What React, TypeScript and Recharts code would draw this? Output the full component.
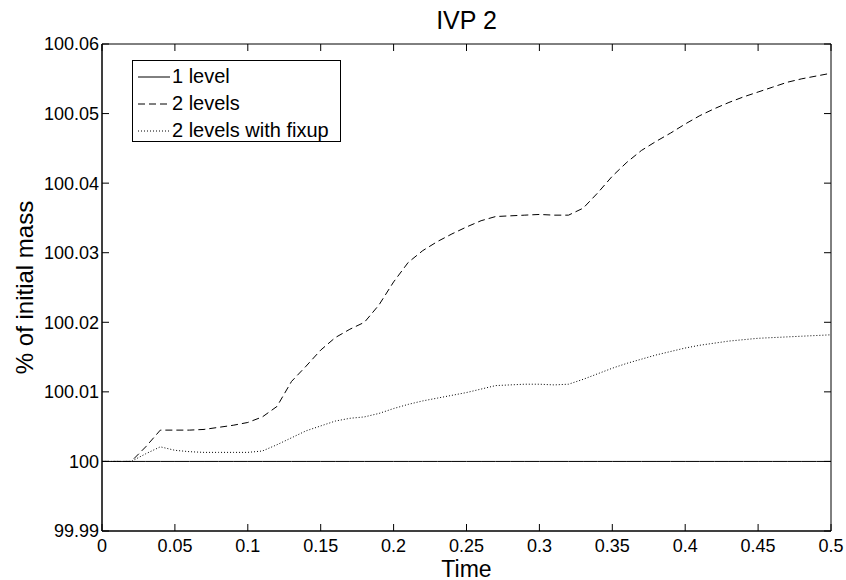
import { LineChart, Line, XAxis, YAxis, Legend } from 'recharts';

// sample times (s)
const time = [
  0, 0.01, 0.02, 0.03, 0.04, 0.05, 0.06, 0.07, 0.08, 0.09,
  0.1, 0.11, 0.12, 0.13, 0.14, 0.15, 0.16, 0.17, 0.18, 0.19,
  0.2, 0.21, 0.22, 0.23, 0.24, 0.25, 0.26, 0.27, 0.28, 0.29,
  0.3, 0.31, 0.32, 0.33, 0.34, 0.35, 0.36, 0.37, 0.38, 0.39,
  0.4, 0.41, 0.42, 0.43, 0.44, 0.45, 0.46, 0.47, 0.48, 0.49, 0.5,
];

const oneLevel = [
  100, 100, 100, 100, 100, 100, 100, 100, 100, 100,
  100, 100, 100, 100, 100, 100, 100, 100, 100, 100,
  100, 100, 100, 100, 100, 100, 100, 100, 100, 100,
  100, 100, 100, 100, 100, 100, 100, 100, 100, 100,
  100, 100, 100, 100, 100, 100, 100, 100, 100, 100, 100,
];

const twoLevels = [
  100, 100, 100, 100.0021, 100.0045, 100.0045, 100.0045, 100.0046, 100.0049, 100.0052,
  100.0056, 100.0064, 100.0079, 100.0115, 100.0137, 100.016, 100.0178, 100.019, 100.02, 100.0225,
  100.0258, 100.0286, 100.0303, 100.0316, 100.0327, 100.0337, 100.0346, 100.0352, 100.0353, 100.0354,
  100.0355, 100.0354, 100.0354, 100.0364, 100.0386, 100.041, 100.043, 100.0447, 100.046, 100.0472,
  100.0485, 100.0497, 100.0507, 100.0516, 100.0524, 100.0531, 100.0538, 100.0545, 100.055, 100.0554, 100.0558,
];

const twoLevelsFixup = [
  100, 100, 100, 100.0011, 100.0021, 100.0016, 100.0014, 100.0013, 100.0013, 100.0013,
  100.0013, 100.0015, 100.0024, 100.0034, 100.0044, 100.0051, 100.0058, 100.0062, 100.0064, 100.0069,
  100.0076, 100.0082, 100.0087, 100.0091, 100.0095, 100.0099, 100.0104, 100.0109, 100.011, 100.0111,
  100.0111, 100.011, 100.0111, 100.0118, 100.0126, 100.0134, 100.0141, 100.0147, 100.0153, 100.0158,
  100.0163, 100.0167, 100.017, 100.0173, 100.0175, 100.0177, 100.0178, 100.0179, 100.018, 100.0181, 100.0182,
];

const xTicks = [0, 0.05, 0.1, 0.15, 0.2, 0.25, 0.3, 0.35, 0.4, 0.45, 0.5];
const xTickLabels = ['0', '0.05', '0.1', '0.15', '0.2', '0.25', '0.3', '0.35', '0.4', '0.45', '0.5'];
const yTicks = [99.99, 100, 100.01, 100.02, 100.03, 100.04, 100.05, 100.06];
const yTickLabels = ['99.99', '100', '100.01', '100.02', '100.03', '100.04', '100.05', '100.06'];

const seriesNames = ['1 level', '2 levels', '2 levels with fixup'];
const dashes = [undefined, '7 4', '1 2'];

const data = time.map((t, i) => ({
  t,
  one: oneLevel[i],
  two: twoLevels[i],
  fix: twoLevelsFixup[i],
}));

const FONT = '"Liberation Sans", Arial, Helvetica, sans-serif';
const tickStyle = { fill: '#000', fontSize: 18 };
const X_DOMAIN: [number, number] = [0, 0.5];
const Y_DOMAIN: [number, number] = [99.99, 100.06];
const TICK_LEN = 7;
const noLabel = () => <g />;

function LegendBox() {
  return (
    <div
      style={{
        border: '1px solid #000',
        background: '#fff',
        width: 209,
        height: 82,
        boxSizing: 'border-box',
        paddingTop: 2,
        fontSize: 20,
        color: '#000',
      }}
    >
      {seriesNames.map((name, i) => (
        <div key={name} style={{ display: 'flex', alignItems: 'center', height: 27 }}>
          <svg width={32} height={4} style={{ marginLeft: 5, marginRight: 2 }}>
            <line x1={0} y1={2} x2={32} y2={2} stroke="#000" strokeWidth={1} strokeDasharray={dashes[i]} />
          </svg>
          <span>{name}</span>
        </div>
      ))}
    </div>
  );
}

export default function App() {
  return (
    <div style={{ position: 'absolute', left: 0, top: 0, background: '#fff' }}>
      <LineChart
        width={846}
        height={580}
        data={data}
        margin={{ top: 44, right: 15, bottom: 0, left: 0 }}
        style={{ fontFamily: FONT }}
      >
        {/* labelled axes (bottom / left) */}
        <XAxis
          dataKey="t"
          type="number"
          domain={X_DOMAIN}
          ticks={xTicks}
          interval={0}
          height={49}
          tickLine={false}
          tickSize={0}
          tickMargin={8}
          tick={tickStyle}
          stroke="#000"
          tickFormatter={(v) => xTickLabels[xTicks.indexOf(v)] ?? String(v)}
          label={{ value: 'Time', position: 'insideBottom', offset: 3, fontSize: 23, fill: '#000' }}
        />
        <YAxis
          type="number"
          domain={Y_DOMAIN}
          ticks={yTicks}
          interval={0}
          width={102}
          tickLine={false}
          tickSize={0}
          tickMargin={3}
          tick={tickStyle}
          stroke="#000"
          tickFormatter={(v) => yTickLabels[yTicks.indexOf(v)] ?? String(v)}
          label={{
            value: '% of initial mass',
            angle: -90,
            position: 'insideLeft',
            offset: 24,
            fontSize: 24,
            fill: '#000',
            style: { textAnchor: 'middle' },
          }}
        />
        {/* mirrored axes: inward ticks on all four sides */}
        <XAxis
          xAxisId="bottomTicks"
          orientation="bottom"
          mirror
          dataKey="t"
          type="number"
          domain={X_DOMAIN}
          allowDataOverflow
          ticks={xTicks}
          interval={0}
          tickSize={TICK_LEN}
          tick={noLabel}
          stroke="#000"
        />
        <XAxis
          xAxisId="top"
          orientation="top"
          mirror
          dataKey="t"
          type="number"
          domain={X_DOMAIN}
          allowDataOverflow
          ticks={xTicks}
          interval={0}
          tickSize={TICK_LEN}
          tick={noLabel}
          stroke="#000"
          label={{ value: 'IVP 2', position: 'top', offset: 15, fontSize: 25, fill: '#000' }}
        />
        <YAxis
          yAxisId="leftTicks"
          orientation="left"
          mirror
          type="number"
          domain={Y_DOMAIN}
          allowDataOverflow
          ticks={yTicks}
          interval={0}
          tickSize={TICK_LEN}
          tick={noLabel}
          stroke="#000"
        />
        <YAxis
          yAxisId="right"
          orientation="right"
          mirror
          type="number"
          domain={Y_DOMAIN}
          allowDataOverflow
          ticks={yTicks}
          interval={0}
          tickSize={TICK_LEN}
          tick={noLabel}
          stroke="#000"
        />
        <Legend
          layout="vertical"
          align="center"
          verticalAlign="middle"
          content={() => <LegendBox />}
          wrapperStyle={{ left: 132, top: 60, width: 209, height: 82, fontFamily: FONT }}
        />
        <Line dataKey="one" name={seriesNames[0]} stroke="#000" strokeWidth={1} dot={false} type="linear" isAnimationActive={false} />
        <Line dataKey="two" name={seriesNames[1]} stroke="#000" strokeWidth={1} strokeDasharray="7 4" dot={false} type="linear" isAnimationActive={false} />
        <Line dataKey="fix" name={seriesNames[2]} stroke="#000" strokeWidth={1} strokeDasharray="1 2" dot={false} type="linear" isAnimationActive={false} />
      </LineChart>
    </div>
  );
}
